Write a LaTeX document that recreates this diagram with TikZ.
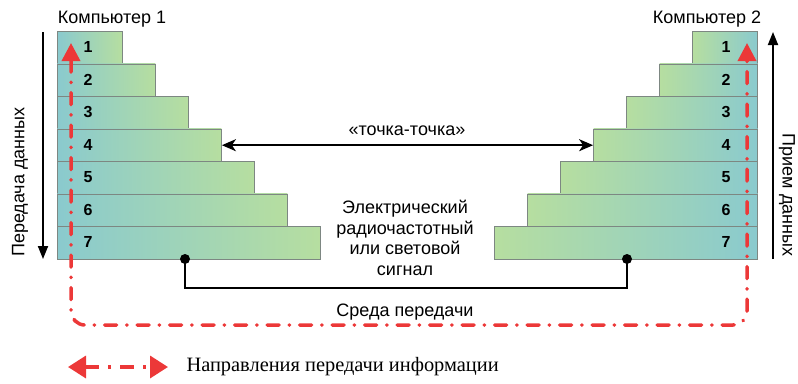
\documentclass[tikz,border=0pt]{standalone}
\usepackage{fontspec}
\setmainfont{Liberation Sans}
\newfontfamily\serifft{Liberation Serif}
\usetikzlibrary{arrows.meta}
\definecolor{tealc}{RGB}{138,202,206}
\definecolor{greenc}{RGB}{182,222,160}
\definecolor{redc}{RGB}{236,56,56}
\definecolor{edgec}{RGB}{125,135,130}
\tikzset{
  lbox/.style={draw=edgec, line width=0.9pt, left color=tealc, right color=greenc,
               minimum height=32.5pt, anchor=north west, inner sep=0pt},
  rbox/.style={draw=edgec, line width=0.9pt, left color=greenc, right color=tealc,
               minimum height=32.5pt, anchor=north east, inner sep=0pt},
  num/.style={font=\bfseries\fontsize{16}{16}\selectfont},
  lbl/.style={font=\fontsize{18}{20.5}\selectfont},
  blackarrow/.style={line width=1.8pt, -{Triangle[length=13pt,width=10pt]}},
  pparrow/.style={line width=1.8pt, {Stealth[length=14pt,width=12pt,inset=4pt]}-{Stealth[length=14pt,width=12pt,inset=4pt]}},
  redloop/.style={draw=redc, line width=3.5pt, line cap=round,
                  dash pattern=on 12pt off 10pt on 0.5pt off 10pt,
                  {Triangle[length=18pt,width=18pt]}-{Triangle[length=18pt,width=18pt]}},
  legarrow/.style={draw=redc, line width=3.5pt,
                  dash pattern=on 14pt off 9pt on 3pt off 9pt,
                  {Triangle[length=18pt,width=22pt]}-{Triangle[length=18pt,width=22pt]}},
  dotnode/.style={circle, fill=black, inner sep=0pt, minimum size=10pt},
}
\begin{document}
\begin{tikzpicture}[x=1pt,y=-1pt]
\useasboundingbox (0,0) rectangle (798,383);
% stacks
\foreach \i in {1,...,7}{
  \node[lbox, minimum width={65+33*(\i-1)}] (L\i) at (57,{31+32.5*(\i-1)}) {};
  \node[rbox, minimum width={65+33*(\i-1)}] (R\i) at (758,{31+32.5*(\i-1)}) {};
  \node[num] (nL\i) at (88,{47.25+32.5*(\i-1)}) {\i};
  \node[num] (nR\i) at (726,{47.25+32.5*(\i-1)}) {\i};
}
% titles
\node[lbl] (c1) at (112,19) {Компьютер 1};
\node[lbl] (c2) at (707,19) {Компьютер 2};
% side arrows
\coordinate (aL1) at (43,32);
\coordinate (aL2) at (43,259);
\draw[blackarrow] (aL1) -- (aL2);
\coordinate (aR1) at (773,259);
\coordinate (aR2) at (773,32);
\draw[blackarrow] (aR1) -- (aR2);
\node[lbl, rotate=90] (tL) at (20,182) {Передача данных};
\node[lbl, rotate=-90] (tR) at (787,195) {Прием данных};
% point-to-point
\draw[pparrow] (L4.east) -- (R4.west);
\node[lbl] (pp) at (407,131) {«точка-точка»};
\node[lbl, align=center] (sig) at (405,238) {Электрический\\радиочастотный\\или световой\\сигнал};
% medium
\node[dotnode] (d1) at (185,259) {};
\node[dotnode] (d2) at (627,259) {};
\coordinate (mb) at (405,288);
\draw[line width=1.8pt] (d1.center) |- (mb) -| (d2.center);
\node[lbl] (med) at (405,312) {Среда передачи};
% red loop
\coordinate (rl) at (71,43);
\coordinate (rr) at (747,43);
\draw[redloop, rounded corners=14pt] (rl) -- (71,325) -- (747,325) -- (rr);
% legend
\coordinate (lg1) at (68,367);
\coordinate (lg2) at (168,367);
\draw[legarrow] (lg1) -- (lg2);
\node[anchor=west, font=\serifft\fontsize{20.4}{20.4}\selectfont] (leg) at (183,367) {Направления передачи информации};
\end{tikzpicture}
\end{document}
